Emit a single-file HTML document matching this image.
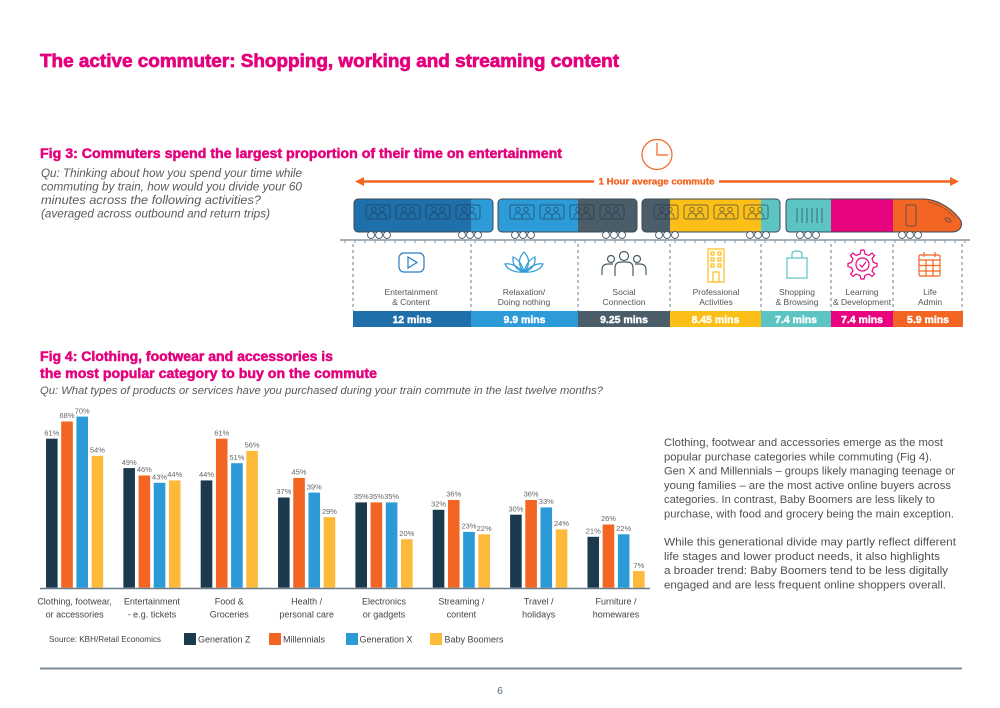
<!DOCTYPE html>
<html><head><meta charset="utf-8"><style>
html,body{margin:0;padding:0;background:#fff;}
svg{display:block;}
text{font-family:"Liberation Sans",sans-serif;}
</style></head><body>
<svg width="1000" height="708" viewBox="0 0 1000 708" xmlns="http://www.w3.org/2000/svg">
<rect width="1000" height="708" fill="#fff"/>
<defs>
<g id="win">
<rect x="0" y="0" width="24" height="14" rx="2" fill="none" stroke="#1a3348" stroke-opacity="0.6" stroke-width="1"/>
<circle cx="8" cy="4.5" r="2.2" fill="none" stroke="#1a3348" stroke-opacity="0.6" stroke-width="0.9"/>
<circle cx="16" cy="4.5" r="2.2" fill="none" stroke="#1a3348" stroke-opacity="0.6" stroke-width="0.9"/>
<path d="M4,13 Q4,8 8,8 Q12,8 12,13 M12,13 Q12,8 16,8 Q20,8 20,13" fill="none" stroke="#1a3348" stroke-opacity="0.6" stroke-width="0.9"/>
</g>
<clipPath id="c1"><rect x="354" y="199" width="139" height="33" rx="4"/></clipPath>
<clipPath id="c2"><rect x="498" y="199" width="139" height="33" rx="4"/></clipPath>
<clipPath id="c3"><rect x="642" y="199" width="138" height="33" rx="4"/></clipPath>
<clipPath id="c4"><path d="M790,199 H925 C940,200 955,211 961,221 C963,228 958,232 952,232 H790 Q786,232 786,228 V203 Q786,199 790,199 Z"/></clipPath>
</defs>

<!-- Title -->
<text x="40" y="67" font-size="18.5" font-weight="bold" fill="#e5007d" stroke="#e5007d" stroke-width="0.7" textLength="579" lengthAdjust="spacingAndGlyphs">The active commuter: Shopping, working and streaming content</text>

<!-- Fig 3 -->
<text x="40" y="158" font-size="13.5" font-weight="bold" fill="#e5007d" stroke="#e5007d" stroke-width="0.5" textLength="522" lengthAdjust="spacingAndGlyphs">Fig 3: Commuters spend the largest proportion of their time on entertainment</text>
<g font-size="11.5" font-style="italic" fill="#5a5a5a">
<text x="41" y="177" textLength="261" lengthAdjust="spacingAndGlyphs">Qu: Thinking about how you spend your time while</text>
<text x="41" y="190.5" textLength="261" lengthAdjust="spacingAndGlyphs">commuting by train, how would you divide your 60</text>
<text x="41" y="204" textLength="220" lengthAdjust="spacingAndGlyphs">minutes across the following activities?</text>
<text x="41" y="217.5" textLength="229" lengthAdjust="spacingAndGlyphs">(averaged across outbound and return trips)</text>
</g>

<!-- Clock -->
<circle cx="657" cy="154.5" r="15" fill="none" stroke="#f26522" stroke-width="1.2"/>
<path d="M657,143 V155 H668" fill="none" stroke="#f26522" stroke-width="1.2"/>

<!-- Arrow -->
<line x1="362" y1="181.5" x2="594" y2="181.5" stroke="#f26522" stroke-width="2.5"/>
<line x1="719" y1="181.5" x2="951" y2="181.5" stroke="#f26522" stroke-width="2.5"/>
<polygon points="355,181.5 364,177 364,186" fill="#f26522"/>
<polygon points="959,181.5 950,177 950,186" fill="#f26522"/>
<text x="656.5" y="184.5" font-size="9" font-weight="bold" fill="#f26522" stroke="#f26522" stroke-width="0.3" text-anchor="middle" textLength="116" lengthAdjust="spacingAndGlyphs">1 Hour average commute</text>

<!-- Train cars -->
<g clip-path="url(#c1)">
<rect x="354" y="199" width="117" height="33" fill="#1f6fab"/>
<rect x="471" y="199" width="22" height="33" fill="#2d9bd8"/>
</g>
<rect x="354" y="199" width="139" height="33" rx="4" fill="none" stroke="#3a4a55" stroke-width="1"/>
<g clip-path="url(#c2)">
<rect x="498" y="199" width="80" height="33" fill="#2d9bd8"/>
<rect x="578" y="199" width="59" height="33" fill="#4a5d68"/>
</g>
<rect x="498" y="199" width="139" height="33" rx="4" fill="none" stroke="#3a4a55" stroke-width="1"/>
<g clip-path="url(#c3)">
<rect x="642" y="199" width="28" height="33" fill="#4a5d68"/>
<rect x="670" y="199" width="91" height="33" fill="#fcbf17"/>
<rect x="761" y="199" width="19" height="33" fill="#5cc4c3"/>
</g>
<rect x="642" y="199" width="138" height="33" rx="4" fill="none" stroke="#3a4a55" stroke-width="1"/>
<g clip-path="url(#c4)">
<rect x="786" y="199" width="45" height="33" fill="#5cc4c3"/>
<rect x="831" y="199" width="62" height="33" fill="#e8037f"/>
<rect x="893" y="199" width="70" height="33" fill="#f26522"/>
</g>
<path d="M790,199 H925 C940,200 955,211 961,221 C963,228 958,232 952,232 H790 Q786,232 786,228 V203 Q786,199 790,199 Z" fill="none" stroke="#3a4a55" stroke-width="1"/>

<!-- windows -->
<use href="#win" x="366" y="205"/><use href="#win" x="396" y="205"/><use href="#win" x="426" y="205"/><use href="#win" x="456" y="205"/>
<use href="#win" x="510" y="205"/><use href="#win" x="540" y="205"/><use href="#win" x="570" y="205"/><use href="#win" x="600" y="205"/>
<use href="#win" x="654" y="205"/><use href="#win" x="684" y="205"/><use href="#win" x="714" y="205"/><use href="#win" x="744" y="205"/>

<!-- loco details -->
<g stroke="#2f4656" stroke-opacity="0.7" stroke-width="1">
<line x1="797" y1="208" x2="797" y2="223"/><line x1="802" y1="208" x2="802" y2="223"/><line x1="807" y1="208" x2="807" y2="223"/>
<line x1="812" y1="208" x2="812" y2="223"/><line x1="817" y1="208" x2="817" y2="223"/><line x1="822" y1="208" x2="822" y2="223"/>
<rect x="906" y="205" width="10" height="21" rx="2" fill="none"/>
<ellipse cx="948" cy="220" rx="3.2" ry="1.6" transform="rotate(30 948 220)" fill="none"/>
<path d="M928,202 C940,204 950,212 955,218" fill="none" stroke-opacity="0.4"/>
</g>

<!-- Rail -->
<line x1="340" y1="240" x2="970" y2="240" stroke="#8797a3" stroke-width="1.5"/>
<path stroke="#8797a3" stroke-width="1" d="M345,240v3M355,240v3M365,240v3M375,240v3M385,240v3M395,240v3M405,240v3M415,240v3M425,240v3M435,240v3M445,240v3M455,240v3M465,240v3M475,240v3M485,240v3M495,240v3M505,240v3M515,240v3M525,240v3M535,240v3M545,240v3M555,240v3M565,240v3M575,240v3M585,240v3M595,240v3M605,240v3M615,240v3M625,240v3M635,240v3M645,240v3M655,240v3M665,240v3M675,240v3M685,240v3M695,240v3M705,240v3M715,240v3M725,240v3M735,240v3M745,240v3M755,240v3M765,240v3M775,240v3M785,240v3M795,240v3M805,240v3M815,240v3M825,240v3M835,240v3M845,240v3M855,240v3M865,240v3M875,240v3M885,240v3M895,240v3M905,240v3M915,240v3M925,240v3M935,240v3M945,240v3M955,240v3M965,240v3"/>

<!-- Wheels -->
<g fill="#fff" stroke="#4d5f6c" stroke-width="0.9">
<circle cx="371" cy="235" r="3.5"/><circle cx="379" cy="235" r="3.5"/><circle cx="387" cy="235" r="3.5"/>
<circle cx="462" cy="235" r="3.5"/><circle cx="470" cy="235" r="3.5"/><circle cx="478" cy="235" r="3.5"/>
<circle cx="515" cy="235" r="3.5"/><circle cx="523" cy="235" r="3.5"/><circle cx="531" cy="235" r="3.5"/>
<circle cx="606" cy="235" r="3.5"/><circle cx="614" cy="235" r="3.5"/><circle cx="622" cy="235" r="3.5"/>
<circle cx="659" cy="235" r="3.5"/><circle cx="667" cy="235" r="3.5"/><circle cx="675" cy="235" r="3.5"/>
<circle cx="750" cy="235" r="3.5"/><circle cx="758" cy="235" r="3.5"/><circle cx="766" cy="235" r="3.5"/>
<circle cx="800" cy="235" r="3.5"/><circle cx="808" cy="235" r="3.5"/><circle cx="816" cy="235" r="3.5"/>
<circle cx="902" cy="235" r="3.5"/><circle cx="910" cy="235" r="3.5"/><circle cx="918" cy="235" r="3.5"/>
</g>

<!-- Dashed separators -->
<g stroke="#6f7f8b" stroke-width="1" stroke-dasharray="3,3">
<line x1="353" y1="244" x2="353" y2="311"/><line x1="471" y1="244" x2="471" y2="311"/>
<line x1="578" y1="244" x2="578" y2="311"/><line x1="670" y1="244" x2="670" y2="311"/>
<line x1="761" y1="244" x2="761" y2="311"/><line x1="831" y1="244" x2="831" y2="311"/>
<line x1="893" y1="244" x2="893" y2="311"/><line x1="962" y1="244" x2="962" y2="311"/>
</g>

<!-- Icons -->
<g fill="none" stroke-width="1.2">
<rect x="399" y="253" width="25" height="19" rx="5" stroke="#2b7cc0"/>
<polygon points="408,257 408,268 417,262.5" stroke="#2b7cc0"/>
<g stroke="#2d9bd8">
<path d="M524,272 C518,266 518,258 524,252 C530,258 530,266 524,272 Z"/>
<path d="M524,272 C516,270 512,264 513,257 C518,259 522,264 524,272"/>
<path d="M524,272 C532,270 536,264 535,257 C530,259 526,264 524,272"/>
<path d="M524,272 C514,273 507,269 505,264 C510,263 517,266 524,272"/>
<path d="M524,272 C534,273 541,269 543,264 C538,263 531,266 524,272"/>
</g>
<g stroke="#4a5d68">
<circle cx="611" cy="259" r="3.5"/><circle cx="624" cy="256" r="4.5"/><circle cx="637" cy="259" r="3.5"/>
<path d="M602,275 V270 Q602,264 608,264 H613"/>
<path d="M615,276 V268 Q615,262 621,262 H627 Q633,262 633,268 V276"/>
<path d="M646,275 V270 Q646,264 640,264 H635"/>
</g>
<g stroke="#fcbf17">
<rect x="708" y="249" width="16" height="33"/>
<rect x="711" y="252" width="3" height="3"/><rect x="718" y="252" width="3" height="3"/>
<rect x="711" y="258" width="3" height="3"/><rect x="718" y="258" width="3" height="3"/>
<rect x="711" y="264" width="3" height="3"/><rect x="718" y="264" width="3" height="3"/>
<rect x="713" y="272" width="6" height="10"/>
</g>
<g stroke="#5cc4c3">
<rect x="787" y="258" width="20" height="20"/>
<path d="M792,258 V254 Q792,251 797,251 Q802,251 802,254 V258"/>
</g>
<g stroke="#e8037f">
<path d="M861,250 L864,250 L865,254 L869,255.5 L872,253 L874.5,255.5 L872,259 L873.5,262.5 L877,263.5 L877,266.5 L873.5,267.5 L872,271 L874.5,274 L872,276.5 L869,274 L865,275.5 L864,279 L861,279 L860,275.5 L856,274 L853,276.5 L850.5,274 L853,271 L851.5,267.5 L848,266.5 L848,263.5 L851.5,262.5 L853,259 L850.5,255.5 L853,253 L856,255.5 L860,254 Z"/>
<circle cx="862.5" cy="264.5" r="6.5"/>
<path d="M859.5,264.5 L862,267 L866,262"/>
</g>
<g stroke="#f26522">
<rect x="919" y="255" width="21" height="21" rx="1.5"/>
<line x1="919" y1="260" x2="940" y2="260"/>
<line x1="924" y1="252" x2="924" y2="257"/><line x1="935" y1="252" x2="935" y2="257"/>
<line x1="919" y1="265.5" x2="940" y2="265.5"/><line x1="919" y1="271" x2="940" y2="271"/>
<line x1="926" y1="260" x2="926" y2="276"/><line x1="933" y1="260" x2="933" y2="276"/>
</g>
</g>

<!-- Activity labels -->
<g font-size="8.5" fill="#555" text-anchor="middle">
<text x="411" y="295">Entertainment</text><text x="411" y="305">&amp; Content</text>
<text x="524" y="295">Relaxation/</text><text x="524" y="305">Doing nothing</text>
<text x="624" y="295">Social</text><text x="624" y="305">Connection</text>
<text x="716" y="295">Professional</text><text x="716" y="305">Activities</text>
<text x="797" y="295">Shopping</text><text x="797" y="305">&amp; Browsing</text>
<text x="862" y="295">Learning</text><text x="862" y="305">&amp; Development</text>
<text x="930" y="295">Life</text><text x="930" y="305">Admin</text>
</g>

<!-- Minutes bars -->
<rect x="353" y="311" width="118" height="16" fill="#1f6fab"/>
<rect x="471" y="311" width="107" height="16" fill="#2d9bd8"/>
<rect x="578" y="311" width="92" height="16" fill="#4a5d68"/>
<rect x="670" y="311" width="91" height="16" fill="#fcbf17"/>
<rect x="761" y="311" width="70" height="16" fill="#5cc4c3"/>
<rect x="831" y="311" width="62" height="16" fill="#e8037f"/>
<rect x="893" y="311" width="70" height="16" fill="#f26522"/>
<g font-size="10.5" font-weight="bold" fill="#fff" stroke="#fff" stroke-width="0.4" text-anchor="middle">
<text x="412" y="323">12 mins</text>
<text x="524.5" y="323">9.9 mins</text>
<text x="624" y="323">9.25 mins</text>
<text x="715.5" y="323">8.45 mins</text>
<text x="796" y="323">7.4 mins</text>
<text x="862" y="323">7.4 mins</text>
<text x="928" y="323">5.9 mins</text>
</g>

<!-- Fig 4 -->
<text x="40" y="361" font-size="13.5" font-weight="bold" fill="#e5007d" stroke="#e5007d" stroke-width="0.5" textLength="293" lengthAdjust="spacingAndGlyphs">Fig 4: Clothing, footwear and accessories is</text>
<text x="40" y="378" font-size="13.5" font-weight="bold" fill="#e5007d" stroke="#e5007d" stroke-width="0.5" textLength="337" lengthAdjust="spacingAndGlyphs">the most popular category to buy on the commute</text>
<text x="40" y="394" font-size="11" font-style="italic" fill="#5a5a5a" textLength="563" lengthAdjust="spacingAndGlyphs">Qu: What types of products or services have you purchased during your train commute in the last twelve months?</text>

<!-- Bars -->
<g stroke="#fff" stroke-width="0.6">
<g fill="#1c3a4e">
<rect x="45.7" y="438.4" width="12.2" height="149.6"/>
<rect x="123.05" y="467.8" width="12.2" height="120.2"/>
<rect x="200.4" y="480.1" width="12.2" height="107.9"/>
<rect x="277.75" y="497.2" width="12.2" height="90.8"/>
<rect x="355.1" y="502.1" width="12.2" height="85.9"/>
<rect x="432.45" y="509.5" width="12.2" height="78.5"/>
<rect x="509.8" y="514.4" width="12.2" height="73.6"/>
<rect x="587.15" y="536.5" width="12.2" height="51.5"/>
</g>
<g fill="#f26522">
<rect x="60.9" y="421.2" width="12.2" height="166.8"/>
<rect x="138.25" y="475.2" width="12.2" height="112.8"/>
<rect x="215.6" y="438.4" width="12.2" height="149.6"/>
<rect x="292.95" y="477.6" width="12.2" height="110.4"/>
<rect x="370.3" y="502.1" width="12.2" height="85.9"/>
<rect x="447.65" y="499.7" width="12.2" height="88.3"/>
<rect x="525" y="499.7" width="12.2" height="88.3"/>
<rect x="602.35" y="524.2" width="12.2" height="63.8"/>
</g>
<g fill="#2c9ad6">
<rect x="76.1" y="416.3" width="12.2" height="171.7"/>
<rect x="153.45" y="482.5" width="12.2" height="105.5"/>
<rect x="230.8" y="462.9" width="12.2" height="125.1"/>
<rect x="308.15" y="492.3" width="12.2" height="95.7"/>
<rect x="385.5" y="502.1" width="12.2" height="85.9"/>
<rect x="462.85" y="531.6" width="12.2" height="56.4"/>
<rect x="540.2" y="507.1" width="12.2" height="80.9"/>
<rect x="617.55" y="534" width="12.2" height="54"/>
</g>
<g fill="#fdb93a">
<rect x="91.3" y="455.5" width="12.2" height="132.5"/>
<rect x="168.65" y="480.1" width="12.2" height="107.9"/>
<rect x="246" y="450.6" width="12.2" height="137.4"/>
<rect x="323.35" y="516.9" width="12.2" height="71.1"/>
<rect x="400.7" y="538.9" width="12.2" height="49.1"/>
<rect x="478.05" y="534" width="12.2" height="54"/>
<rect x="555.4" y="529.1" width="12.2" height="58.9"/>
<rect x="632.75" y="570.8" width="12.2" height="17.2"/>
</g>
</g>
<line x1="40" y1="588.5" x2="650" y2="588.5" stroke="#6b7c88" stroke-width="1.5"/>

<!-- Value labels -->
<g font-size="7.5" fill="#666" text-anchor="middle">
<text x="51.8" y="435.4">61%</text><text x="67" y="418.2">68%</text><text x="82.2" y="413.3">70%</text><text x="97.4" y="452.5">54%</text>
<text x="129.15" y="464.8">49%</text><text x="144.35" y="472.2">46%</text><text x="159.55" y="479.5">43%</text><text x="174.75" y="477.1">44%</text>
<text x="206.5" y="477.1">44%</text><text x="221.7" y="435.4">61%</text><text x="236.9" y="459.9">51%</text><text x="252.1" y="447.6">56%</text>
<text x="283.85" y="494.2">37%</text><text x="299.05" y="474.6">45%</text><text x="314.25" y="489.3">39%</text><text x="329.45" y="513.9">29%</text>
<text x="361.2" y="499.1">35%</text><text x="376.4" y="499.1">35%</text><text x="391.6" y="499.1">35%</text><text x="406.8" y="535.9">20%</text>
<text x="438.55" y="506.5">32%</text><text x="453.75" y="496.7">36%</text><text x="468.95" y="528.6">23%</text><text x="484.15" y="531">22%</text>
<text x="515.9" y="511.4">30%</text><text x="531.1" y="496.7">36%</text><text x="546.3" y="504.1">33%</text><text x="561.5" y="526.1">24%</text>
<text x="593.25" y="533.5">21%</text><text x="608.45" y="521.2">26%</text><text x="623.65" y="531">22%</text><text x="638.85" y="567.8">7%</text>
</g>

<!-- Category labels -->
<g font-size="9" fill="#444" text-anchor="middle">
<text x="74.6" y="604.5">Clothing, footwear,</text><text x="74.6" y="617.5">or accessories</text>
<text x="151.95" y="604.5">Entertainment</text><text x="151.95" y="617.5">- e.g. tickets</text>
<text x="229.3" y="604.5">Food &amp;</text><text x="229.3" y="617.5">Groceries</text>
<text x="306.65" y="604.5">Health /</text><text x="306.65" y="617.5">personal care</text>
<text x="384" y="604.5">Electronics</text><text x="384" y="617.5">or gadgets</text>
<text x="461.35" y="604.5">Streaming /</text><text x="461.35" y="617.5">content</text>
<text x="538.7" y="604.5">Travel /</text><text x="538.7" y="617.5">holidays</text>
<text x="616.05" y="604.5">Furniture /</text><text x="616.05" y="617.5">homewares</text>
</g>

<!-- Legend -->
<text x="49" y="642" font-size="8" fill="#444" textLength="112" lengthAdjust="spacingAndGlyphs">Source: KBH/Retail Economics</text>
<rect x="184" y="633" width="12" height="12" fill="#1c3a4e"/>
<text x="198" y="642.5" font-size="9" fill="#444">Generation Z</text>
<rect x="269" y="633" width="12" height="12" fill="#f26522"/>
<text x="283" y="642.5" font-size="9" fill="#444">Millennials</text>
<rect x="346" y="633" width="12" height="12" fill="#2c9ad6"/>
<text x="359.5" y="642.5" font-size="9" fill="#444">Generation X</text>
<rect x="430" y="633" width="12" height="12" fill="#fdb93a"/>
<text x="444.5" y="642.5" font-size="9" fill="#444">Baby Boomers</text>

<!-- Paragraph -->
<g font-size="11.2" fill="#505050">
<text x="664" y="446" textLength="279" lengthAdjust="spacingAndGlyphs">Clothing, footwear and accessories emerge as the most</text>
<text x="664" y="460.3" textLength="268" lengthAdjust="spacingAndGlyphs">popular purchase categories while commuting (Fig 4).</text>
<text x="664" y="474.6" textLength="291" lengthAdjust="spacingAndGlyphs">Gen X and Millennials – groups likely managing teenage or</text>
<text x="664" y="488.9" textLength="287" lengthAdjust="spacingAndGlyphs">young families – are the most active online buyers across</text>
<text x="664" y="503.2" textLength="271" lengthAdjust="spacingAndGlyphs">categories. In contrast, Baby Boomers are less likely to</text>
<text x="664" y="517.5" textLength="290" lengthAdjust="spacingAndGlyphs">purchase, with food and grocery being the main exception.</text>
<text x="664" y="545.5" textLength="292" lengthAdjust="spacingAndGlyphs">While this generational divide may partly reflect different</text>
<text x="664" y="559.8" textLength="276" lengthAdjust="spacingAndGlyphs">life stages and lower product needs, it also highlights</text>
<text x="664" y="574.1" textLength="284" lengthAdjust="spacingAndGlyphs">a broader trend: Baby Boomers tend to be less digitally</text>
<text x="664" y="588.4" textLength="282" lengthAdjust="spacingAndGlyphs">engaged and are less frequent online shoppers overall.</text>
</g>

<!-- Footer -->
<line x1="40" y1="668.5" x2="962" y2="668.5" stroke="#7d8d9a" stroke-width="2"/>
<text x="500" y="694" font-size="10.5" fill="#5b6f80" text-anchor="middle">6</text>
</svg>
</body></html>
